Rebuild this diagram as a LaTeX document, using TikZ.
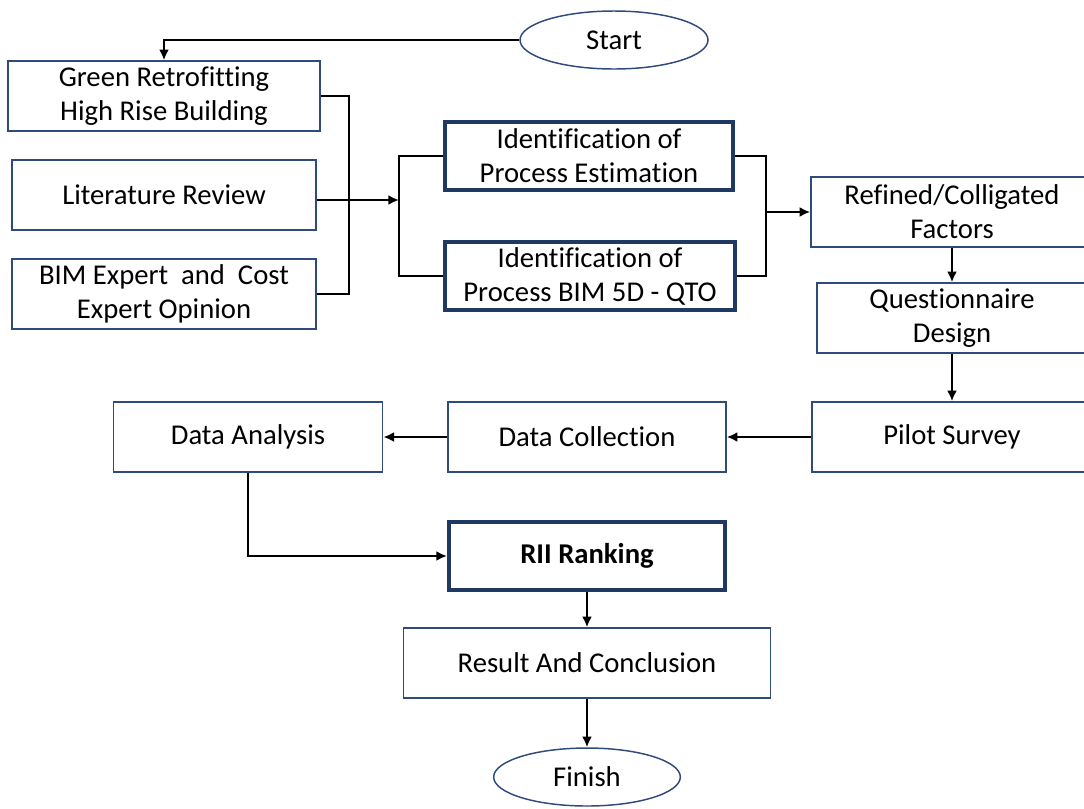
\documentclass[tikz,border=0pt]{standalone}
\usepackage{fontspec}
\setmainfont{Carlito}[Ligatures=CommonOff]
\usetikzlibrary{arrows.meta,shapes.geometric}
\definecolor{boxblue}{HTML}{2F4B7C}
\definecolor{navy}{HTML}{1F3864}

\begin{document}
\begin{tikzpicture}[x=0.75pt,y=-0.75pt,
		every node/.style={font=\fontsize{21.5}{25.5}\selectfont, align=center, inner sep=0pt},
		box/.style={draw=boxblue, line width=1.1pt, minimum height=52.5pt},
		keybox/.style={draw=navy, line width=3pt, minimum height=51pt},
		terminal/.style={ellipse, draw=boxblue, line width=1.1pt, minimum width=141pt, minimum height=43.5pt},
		link/.style={line width=1.9pt},
		arrow/.style={link, -{Latex[length=8pt,width=7.5pt]}}]
	\useasboundingbox (0,0) rectangle (1084,808);
	\clip (0,0) rectangle (1084,808);
	% left column
	\node[terminal] (start) at (614,40) {Start};
	\node[box, minimum width=234pt] (green) at (164,96) {Green Retrofitting\\High Rise Building};
	\node[box, minimum width=228pt] (lit) at (164,195) {Literature Review};
	\node[box, minimum width=228pt] (bim) at (164,294) {BIM Expert\ \ and\ \ Cost\\Expert Opinion};
	% identification
	\node[keybox, minimum width=216pt] (idest) at (589,156) {Identification of\\Process Estimation};
	\node[keybox, minimum width=217pt] (idbim) at (590,276) {Identification of\\Process BIM 5D - QTO};
	% right column
	\node[box, minimum width=211.5pt] (refined) at (952,212) {Refined/Colligated\\Factors};
	\node[box, minimum width=202.5pt] (quest) at (952,318) {Questionnaire\\Design};
	\node[box, minimum width=210pt] (pilot) at (952,437) {Pilot Survey};
	\node[box, minimum width=208.5pt] (datacol) at (587,437) {Data Collection};
	\node[box, minimum width=202pt] (datana) at (248,437) {Data Analysis};
	% bottom
	\node[keybox, minimum width=207pt, font=\fontsize{21.5}{25.5}\selectfont\bfseries] (rii) at (587,556) {RII Ranking};
	\node[box, minimum width=275pt] (result) at (587,663) {Result And Conclusion};
	\node[terminal, minimum width=140pt] (finish) at (587,777) {Finish};

	\coordinate (mergeL) at (349,200);
	\coordinate (splitL) at (399,200);
	\coordinate (mergeR) at (766,212);

	\draw[arrow] (start.west) -| (green.north);
	\draw[link] (green.east) -| (mergeL) |- (bim.east);
	\draw[arrow] (lit.east |- splitL) -- (splitL);
	\draw[link] (idest.west) -| (splitL) |- (idbim.west);
	\draw[link] (idest.east) -| (mergeR) |- (idbim.east);
	\draw[arrow] (mergeR) -- (refined.west);
	\foreach \a/\b in {refined/quest, quest/pilot, rii/result, result/finish}
		\draw[arrow] (\a.south) -- (\b.north);
	\draw[arrow] (pilot.west) -- (datacol.east);
	\draw[arrow] (datacol.west) -- (datana.east);
	\draw[arrow] (datana.south) |- (rii.west);
\end{tikzpicture}
\end{document}
